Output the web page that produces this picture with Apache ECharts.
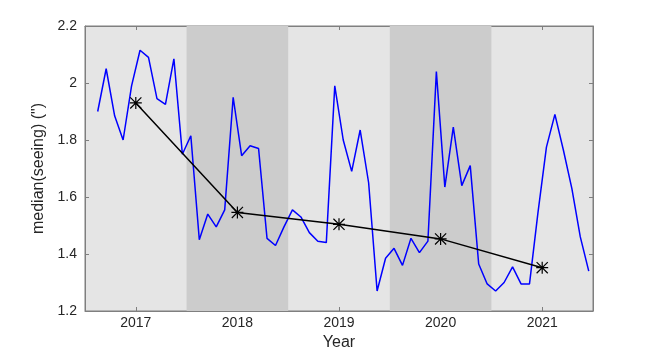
<!DOCTYPE html>
<html>
<head>
<meta charset="utf-8">
<script src="https://cdn.jsdelivr.net/npm/echarts@6/dist/echarts.min.js"></script>
<style>
  html, body { margin: 0; padding: 0; background: #fff; }
  #main { width: 654px; height: 349px; }
</style>
</head>
<body>
<div id="main"></div>
<script>
// monthly median seeing, starting Aug 2016
const firstMonth = [2016, 8];
const monthlySeeing = [
  1.90, 2.05, 1.885, 1.80, 1.99, 2.115, 2.09, 1.945, 1.925, 2.085, 1.75, 1.815,
  1.45, 1.54, 1.495, 1.555, 1.95, 1.745, 1.78, 1.77, 1.455, 1.43, 1.495, 1.555,
  1.53, 1.475, 1.445, 1.44, 1.99, 1.80, 1.69, 1.835, 1.65, 1.27, 1.385, 1.42,
  1.36, 1.455, 1.405, 1.445, 2.04, 1.635, 1.845, 1.64, 1.71, 1.365, 1.295, 1.27,
  1.30, 1.355, 1.295, 1.295, 1.545, 1.775, 1.89, 1.765, 1.63, 1.46, 1.34
];
// yearly median
const years = [2017, 2018, 2019, 2020, 2021];
const yearlySeeing = [1.93, 1.546, 1.504, 1.453, 1.352];
const shadedYears = [2018, 2020];
const yTicks = [1.2, 1.4, 1.6, 1.8, 2, 2.2];

// month index -> decimal year (month centre)
const monthlyData = monthlySeeing.map((v, i) => {
  const m = firstMonth[1] - 1 + i;
  return [firstMonth[0] + (m + 0.5) / 12, v];
});
const yearlyData = years.map((y, i) => [y, yearlySeeing[i]]);

const asterisk = 'path://M0 9L20 9L20 11L0 11Z M9 0L11 0L11 20L9 20Z M1.4 0L20 18.6L18.6 20L0 1.4Z M18.6 0L20 1.4L1.4 20L0 18.6Z';

const axisColor = '#7f7f7f';
const labelColor = '#262626';
const font = 'Liberation Sans, Arial, sans-serif';

let chart = echarts.init(document.getElementById('main'));
let option = {
  backgroundColor: '#fff',
  animation: false,
  grid: {
    left: 85, right: 61, top: 26, bottom: 38,
    outerBoundsMode: 'none',
    containLabel: false,
    show: true,
    backgroundColor: '#e5e5e5',
    borderColor: axisColor,
    borderWidth: 1
  },
  xAxis: [
    {
      type: 'value',
      min: 2016.5, max: 2021.5,
      position: 'bottom',
      name: 'Year',
      nameLocation: 'middle',
      nameGap: 22,
      nameTextStyle: { fontSize: 16, color: labelColor, fontFamily: font },
      axisLine: { show: true, onZero: false, lineStyle: { color: axisColor } },
      axisTick: { show: true, inside: true, length: 4, lineStyle: { color: axisColor }, customValues: years },
      axisLabel: { customValues: years, fontSize: 14, color: labelColor, fontFamily: font, margin: 5, formatter: v => String(v) },
      splitLine: { show: false }
    },
    {
      type: 'value',
      min: 2016.5, max: 2021.5,
      position: 'top',
      axisLine: { show: true, lineStyle: { color: axisColor } },
      axisTick: { show: true, inside: true, length: 4, lineStyle: { color: axisColor }, customValues: years },
      axisLabel: { show: false },
      splitLine: { show: false }
    }
  ],
  yAxis: [
    {
      type: 'value',
      min: 1.2, max: 2.2,
      position: 'left',
      name: 'median(seeing) (")',
      nameLocation: 'middle',
      nameGap: 31,
      nameTextStyle: { fontSize: 16, color: labelColor, fontFamily: font },
      axisLine: { show: true, lineStyle: { color: axisColor } },
      axisTick: { show: true, inside: true, length: 4, lineStyle: { color: axisColor }, customValues: yTicks },
      axisLabel: { customValues: yTicks, fontSize: 14, color: labelColor, fontFamily: font, margin: 8, formatter: v => String(+v.toFixed(1)) },
      splitLine: { show: false }
    },
    {
      type: 'value',
      min: 1.2, max: 2.2,
      position: 'right',
      axisLine: { show: true, lineStyle: { color: axisColor } },
      axisTick: { show: true, inside: true, length: 4, lineStyle: { color: axisColor }, customValues: yTicks },
      axisLabel: { show: false },
      splitLine: { show: false }
    }
  ],
  series: [
    {
      type: 'line',
      data: monthlyData,
      symbol: 'none',
      lineStyle: { color: '#0000ff', width: 1.5 },
      markArea: {
        silent: true,
        itemStyle: { color: '#cccccc' },
        data: shadedYears.map(y => [{ xAxis: y - 0.5 }, { xAxis: y + 0.5 }])
      },
      z: 2
    },
    {
      type: 'line',
      data: yearlyData,
      symbol: asterisk,
      symbolSize: 12,
      itemStyle: { color: '#000' },
      lineStyle: { color: '#000', width: 1.5 },
      z: 3
    }
  ]
};
chart.setOption(option);
</script>
</body>
</html>
